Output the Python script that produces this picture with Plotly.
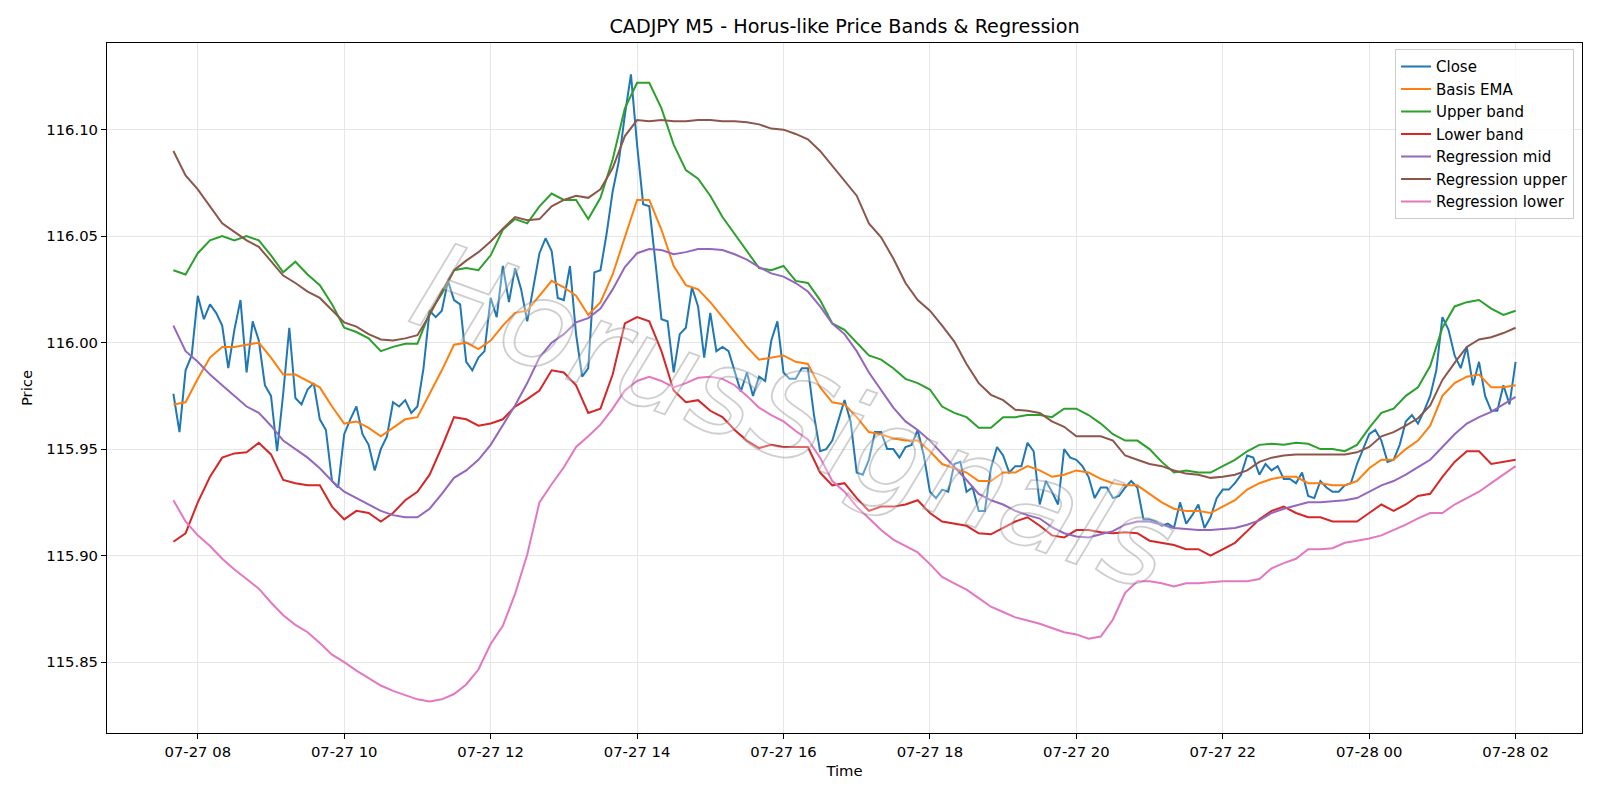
import pandas as pd
import plotly.graph_objects as go

# ---------------- data ----------------
start_time = "2025-07-27 07:40"
n_points = 221  # 5-minute bars 07:40 -> 02:00

close = [
    115.976, 115.958, 115.987, 115.994, 116.022, 116.011, 116.018, 116.014, 116.008, 115.988,
    116.006, 116.020, 115.986, 116.010, 116.001, 115.980, 115.975, 115.949, 115.976, 116.007,
    115.974, 115.971, 115.978, 115.981, 115.964, 115.959, 115.935, 115.932, 115.957, 115.964,
    115.970, 115.957, 115.952, 115.940, 115.950, 115.956, 115.972, 115.970, 115.973, 115.967,
    115.970, 115.988, 116.015, 116.012, 116.015, 116.029, 116.020, 116.018, 115.991, 115.987,
    115.993, 115.996, 116.021, 116.012, 116.036, 116.019, 116.035, 116.025, 116.010, 116.027,
    116.042, 116.049, 116.043, 116.021, 116.020, 116.036, 116.004, 115.984, 115.988, 116.033,
    116.034, 116.051, 116.071, 116.085, 116.107, 116.126, 116.093, 116.065, 116.064, 116.038,
    116.011, 116.010, 115.986, 116.004, 116.007, 116.026, 116.017, 115.993, 116.014, 115.996,
    115.998, 115.996, 115.986, 115.977, 115.986, 115.975, 115.984, 115.982, 116.001, 116.010,
    115.986, 115.983, 115.983, 115.988, 115.988, 115.966, 115.949, 115.950, 115.954, 115.963,
    115.973, 115.963, 115.939, 115.938, 115.945, 115.958, 115.958, 115.950, 115.950, 115.946,
    115.951, 115.952, 115.959, 115.947, 115.930, 115.927, 115.931, 115.930, 115.943, 115.944,
    115.930, 115.932, 115.921, 115.921, 115.941, 115.951, 115.947, 115.939, 115.942, 115.942,
    115.953, 115.949, 115.924, 115.935, 115.930, 115.924, 115.950, 115.946, 115.945, 115.942,
    115.937, 115.927, 115.932, 115.932, 115.927, 115.928, 115.932, 115.935, 115.932, 115.917,
    115.917, 115.916, 115.914, 115.915, 115.913, 115.925, 115.915, 115.919, 115.924, 115.913,
    115.918, 115.927, 115.931, 115.931, 115.934, 115.938, 115.947, 115.946, 115.938, 115.943,
    115.940, 115.942, 115.936, 115.936, 115.934, 115.939, 115.928, 115.927, 115.935, 115.932,
    115.930, 115.930, 115.933, 115.934, 115.943, 115.950, 115.957, 115.959, 115.954, 115.944,
    115.945, 115.952, 115.963, 115.966, 115.962, 115.968, 115.975, 115.987, 116.012, 116.006,
    115.994, 115.988, 115.998, 115.980, 115.991, 115.975, 115.968, 115.968, 115.980, 115.971,
    115.991,
]

# the smoother series are read every 10 minutes (every second bar)
basis_ema = [
    115.971, 115.972, 115.983, 115.993, 115.998, 115.998, 115.999, 116.000, 115.993, 115.985,
    115.985, 115.982, 115.979, 115.970, 115.962, 115.963, 115.960, 115.956,
    115.960, 115.964, 115.965, 115.976, 115.987, 115.999, 116.000, 115.997, 116.001, 116.008,
    116.014, 116.015, 116.022, 116.029, 116.026, 116.022, 116.013, 116.019,
    116.032, 116.049, 116.067, 116.067, 116.053, 116.036, 116.027, 116.025, 116.019, 116.012,
    116.005, 115.998, 115.992, 115.993, 115.994, 115.991, 115.990, 115.979,
    115.972, 115.971, 115.965, 115.958, 115.957, 115.955, 115.954, 115.954, 115.949, 115.943,
    115.941, 115.939, 115.935, 115.935, 115.939, 115.939, 115.942, 115.940,
    115.937, 115.938, 115.940, 115.939, 115.936, 115.934, 115.933, 115.933, 115.929, 115.925,
    115.922, 115.921, 115.921, 115.920, 115.923, 115.926, 115.931, 115.934,
    115.936, 115.937, 115.937, 115.934, 115.934, 115.933, 115.933, 115.935, 115.941, 115.945,
    115.945, 115.950, 115.954, 115.961, 115.975, 115.981, 115.984, 115.985, 115.979, 115.979,
    115.980,
]

upper_band = [
    116.034, 116.032, 116.042, 116.048, 116.050, 116.048, 116.050, 116.048, 116.041, 116.033,
    116.038, 116.032, 116.027, 116.018, 116.007, 116.005, 116.002, 115.996,
    115.998, 115.9995, 115.9995, 116.014, 116.023, 116.034, 116.035, 116.034, 116.041, 116.053,
    116.058, 116.056, 116.064, 116.070, 116.067, 116.067, 116.058, 116.068,
    116.086, 116.110, 116.122, 116.122, 116.110, 116.093, 116.081, 116.077, 116.069, 116.059,
    116.051, 116.043, 116.035, 116.034, 116.036, 116.029, 116.028, 116.020,
    116.009, 116.006, 116.000, 115.994, 115.992, 115.988, 115.983, 115.981, 115.978, 115.970,
    115.967, 115.965, 115.960, 115.960, 115.965, 115.965, 115.966, 115.966,
    115.965, 115.969, 115.969, 115.966, 115.962, 115.957, 115.954, 115.954, 115.950, 115.944,
    115.939, 115.940, 115.939, 115.939, 115.942, 115.945, 115.949, 115.952,
    115.9525, 115.952, 115.953, 115.9525, 115.950, 115.950, 115.949, 115.952, 115.960, 115.967,
    115.969, 115.975, 115.979, 115.989, 116.007, 116.017, 116.019, 116.020, 116.016, 116.013,
    116.015,
]

lower_band = [
    115.9065, 115.9105, 115.925, 115.937, 115.946, 115.948, 115.9485, 115.953, 115.9475, 115.9355,
    115.934, 115.933, 115.933, 115.923, 115.917, 115.921, 115.920, 115.916,
    115.920, 115.926, 115.930, 115.938, 115.951, 115.965, 115.964, 115.961, 115.962, 115.964,
    115.970, 115.9735, 115.9775, 115.987, 115.986, 115.980, 115.967, 115.969,
    115.985, 116.009, 116.012, 116.010, 115.996, 115.9775, 115.972, 115.973, 115.968, 115.965,
    115.959, 115.954, 115.9505, 115.952, 115.951, 115.951, 115.951, 115.939,
    115.933, 115.934, 115.927, 115.921, 115.923, 115.923, 115.924, 115.926, 115.920, 115.916,
    115.915, 115.914, 115.9105, 115.910, 115.913, 115.916, 115.918, 115.914,
    115.9095, 115.9085, 115.912, 115.912, 115.911, 115.9105, 115.911, 115.9105, 115.907, 115.906,
    115.905, 115.903, 115.903, 115.900, 115.903, 115.906, 115.9115, 115.917,
    115.921, 115.923, 115.920, 115.918, 115.918, 115.916, 115.916, 115.916, 115.920, 115.924,
    115.921, 115.924, 115.928, 115.929, 115.937, 115.944, 115.949, 115.949, 115.943, 115.944,
    115.945,
]

regression_mid = [
    116.008, 115.996, 115.991, 115.985, 115.980, 115.975, 115.970, 115.967, 115.961, 115.954,
    115.950, 115.946, 115.941, 115.935, 115.930, 115.927, 115.924, 115.921,
    115.919, 115.918, 115.918, 115.922, 115.929, 115.9365, 115.940, 115.945, 115.952, 115.961,
    115.9705, 115.981, 115.993, 116.000, 116.004, 116.0095, 116.0115, 116.016,
    116.025, 116.0355, 116.042, 116.044, 116.0435, 116.0415, 116.0425, 116.044, 116.044, 116.0435,
    116.0415, 116.039, 116.0355, 116.0325, 116.031, 116.028, 116.024, 116.017,
    116.009, 116.004, 115.996, 115.986, 115.9775, 115.9695, 115.963, 115.959, 115.954, 115.948,
    115.942, 115.9355, 115.929, 115.926, 115.924, 115.921, 115.919, 115.9174,
    115.9134, 115.9105, 115.909, 115.9085, 115.910, 115.9115, 115.9145, 115.916, 115.916, 115.9145,
    115.913, 115.9125, 115.912, 115.912, 115.9125, 115.913, 115.9145, 115.9165,
    115.920, 115.922, 115.9235, 115.925, 115.925, 115.9255, 115.926, 115.927, 115.930, 115.933,
    115.935, 115.938, 115.9415, 115.945, 115.951, 115.957, 115.962, 115.965, 115.9675, 115.971,
    115.9745,
]

regression_upper = [
    116.090, 116.0785, 116.072, 116.064, 116.056, 116.052, 116.048, 116.045, 116.0385, 116.0315,
    116.028, 116.024, 116.021, 116.015, 116.0095, 116.0075, 116.004, 116.0015,
    116.001, 116.002, 116.0035, 116.013, 116.024, 116.034, 116.0385, 116.0425, 116.0475, 116.0535,
    116.059, 116.0575, 116.058, 116.064, 116.067, 116.069, 116.068, 116.072,
    116.082, 116.097, 116.1045, 116.104, 116.1045, 116.104, 116.104, 116.1045, 116.1045, 116.104,
    116.104, 116.1035, 116.1025, 116.1005, 116.100, 116.098, 116.0955, 116.090,
    116.083, 116.076, 116.069, 116.056, 116.0495, 116.0395, 116.028, 116.020, 116.015, 116.008,
    116.0005, 115.990, 115.981, 115.9755, 115.973, 115.9685, 115.968, 115.967,
    115.963, 115.9605, 115.956, 115.956, 115.956, 115.954, 115.947, 115.945, 115.943, 115.942,
    115.940, 115.9385, 115.938, 115.9365, 115.937, 115.938, 115.940, 115.944,
    115.946, 115.947, 115.9475, 115.9475, 115.9475, 115.9475, 115.9475, 115.9485, 115.951, 115.956,
    115.958, 115.961, 115.9645, 115.9705, 115.9825, 115.9905, 115.998, 116.0015, 116.0025, 116.0045,
    116.007,
]

regression_lower = [
    115.926, 115.916, 115.9095, 115.9045, 115.8985, 115.8935, 115.889, 115.8845, 115.878, 115.872,
    115.8675, 115.864, 115.859, 115.8535, 115.850, 115.846, 115.8425, 115.839,
    115.8365, 115.8345, 115.8325, 115.8315, 115.8325, 115.835, 115.8395, 115.8465, 115.8585, 115.867,
    115.882, 115.9005, 115.925, 115.9335, 115.9415, 115.951, 115.956, 115.9615,
    115.969, 115.9775, 115.982, 115.984, 115.982, 115.979, 115.981, 115.9835, 115.984, 115.983,
    115.980, 115.975, 115.9695, 115.966, 115.963, 115.9585, 115.9545, 115.946,
    115.935, 115.930, 115.923, 115.9175, 115.912, 115.9075, 115.9045, 115.9015, 115.896, 115.890,
    115.887, 115.884, 115.880, 115.876, 115.8735, 115.871, 115.8695, 115.868,
    115.866, 115.864, 115.863, 115.861, 115.862, 115.870, 115.8825, 115.888, 115.888, 115.887,
    115.8855, 115.887, 115.887, 115.8875, 115.888, 115.888, 115.888, 115.889,
    115.894, 115.8965, 115.8985, 115.903, 115.903, 115.9035, 115.906, 115.907, 115.908, 115.9095,
    115.912, 115.9145, 115.9175, 115.920, 115.920, 115.924, 115.927, 115.930, 115.934, 115.938,
    115.942,
]

price_ticks = [115.85, 115.90, 115.95, 116.00, 116.05, 116.10]
title_text = "CADJPY M5 - Horus-like Price Bands & Regression"
watermark_text = "HorusSignals"

# ---------------- figure ----------------
times = pd.date_range(start_time, periods=n_points, freq="5min")
times_10 = times[::2]

series = [
    ("Close", times, close, "#1f77b4"),
    ("Basis EMA", times_10, basis_ema, "#ff7f0e"),
    ("Upper band", times_10, upper_band, "#2ca02c"),
    ("Lower band", times_10, lower_band, "#d62728"),
    ("Regression mid", times_10, regression_mid, "#9467bd"),
    ("Regression upper", times_10, regression_upper, "#8c564b"),
    ("Regression lower", times_10, regression_lower, "#e377c2"),
]

fig = go.Figure()
for name, xs, ys, color in series:
    fig.add_trace(go.Scatter(x=xs, y=ys, mode="lines", name=name,
                             line=dict(color=color, width=2)))

FONT = "DejaVu Sans"
tick_font = dict(family=FONT, size=14.8, color="black")

fig.update_layout(
    width=1600, height=800,
    margin=dict(l=107, r=18, t=43, b=67),
    paper_bgcolor="white", plot_bgcolor="white",
    font=dict(family=FONT, size=14.8, color="black"),
    title=dict(text=title_text, x=0.5, xref="paper", y=1 - 26 / 800, yanchor="middle",
               font=dict(family=FONT, size=19.2, color="black")),
    legend=dict(x=0.9946, y=0.991, xanchor="right", yanchor="top",
                bgcolor="rgba(255,255,255,0.8)", bordercolor="#cccccc", borderwidth=1,
                font=dict(family=FONT, size=15, color="black")),
    showlegend=True,
)

fig.update_xaxes(
    type="date",
    range=["2025-07-27 06:45:36", "2025-07-28 02:54:24"],
    tick0="2025-07-27 08:00", dtick=2 * 3600 * 1000, tickformat="%m-%d %H",
    showgrid=True, gridcolor="#e6e6e6", gridwidth=1,
    showline=True, linecolor="black", linewidth=1, mirror=True,
    ticks="outside", ticklen=5, tickwidth=1, tickcolor="black",
    tickfont=tick_font, zeroline=False,
    title=dict(text="Time", font=tick_font, standoff=6),
)
fig.update_yaxes(
    range=[115.8167, 116.1407],
    tickvals=price_ticks, tickformat=".2f",
    showgrid=True, gridcolor="#e6e6e6", gridwidth=1,
    showline=True, linecolor="black", linewidth=1, mirror=True,
    ticks="outside", ticklen=5, tickwidth=1, tickcolor="black",
    tickfont=tick_font, zeroline=False,
    title=dict(text="Price", font=tick_font, standoff=10),
)

# outlined, semi-transparent watermark text
fig.add_annotation(
    text=watermark_text, xref="paper", yref="paper", x=0.466, y=0.458,
    showarrow=False, textangle=20,
    font=dict(family=FONT, size=122, style="italic", color="rgba(255,255,255,0.55)"),
)

outline_js = """
document.body.style.margin = '0';
document.querySelectorAll('.annotation-text').forEach(function (t) {
  t.style.stroke = 'rgba(120,120,120,0.36)';
  t.style.strokeWidth = '1.8px';
  t.style.fill = 'rgba(255,255,255,0.55)';
});
"""

fig.write_html("out.html", post_script=outline_js)
